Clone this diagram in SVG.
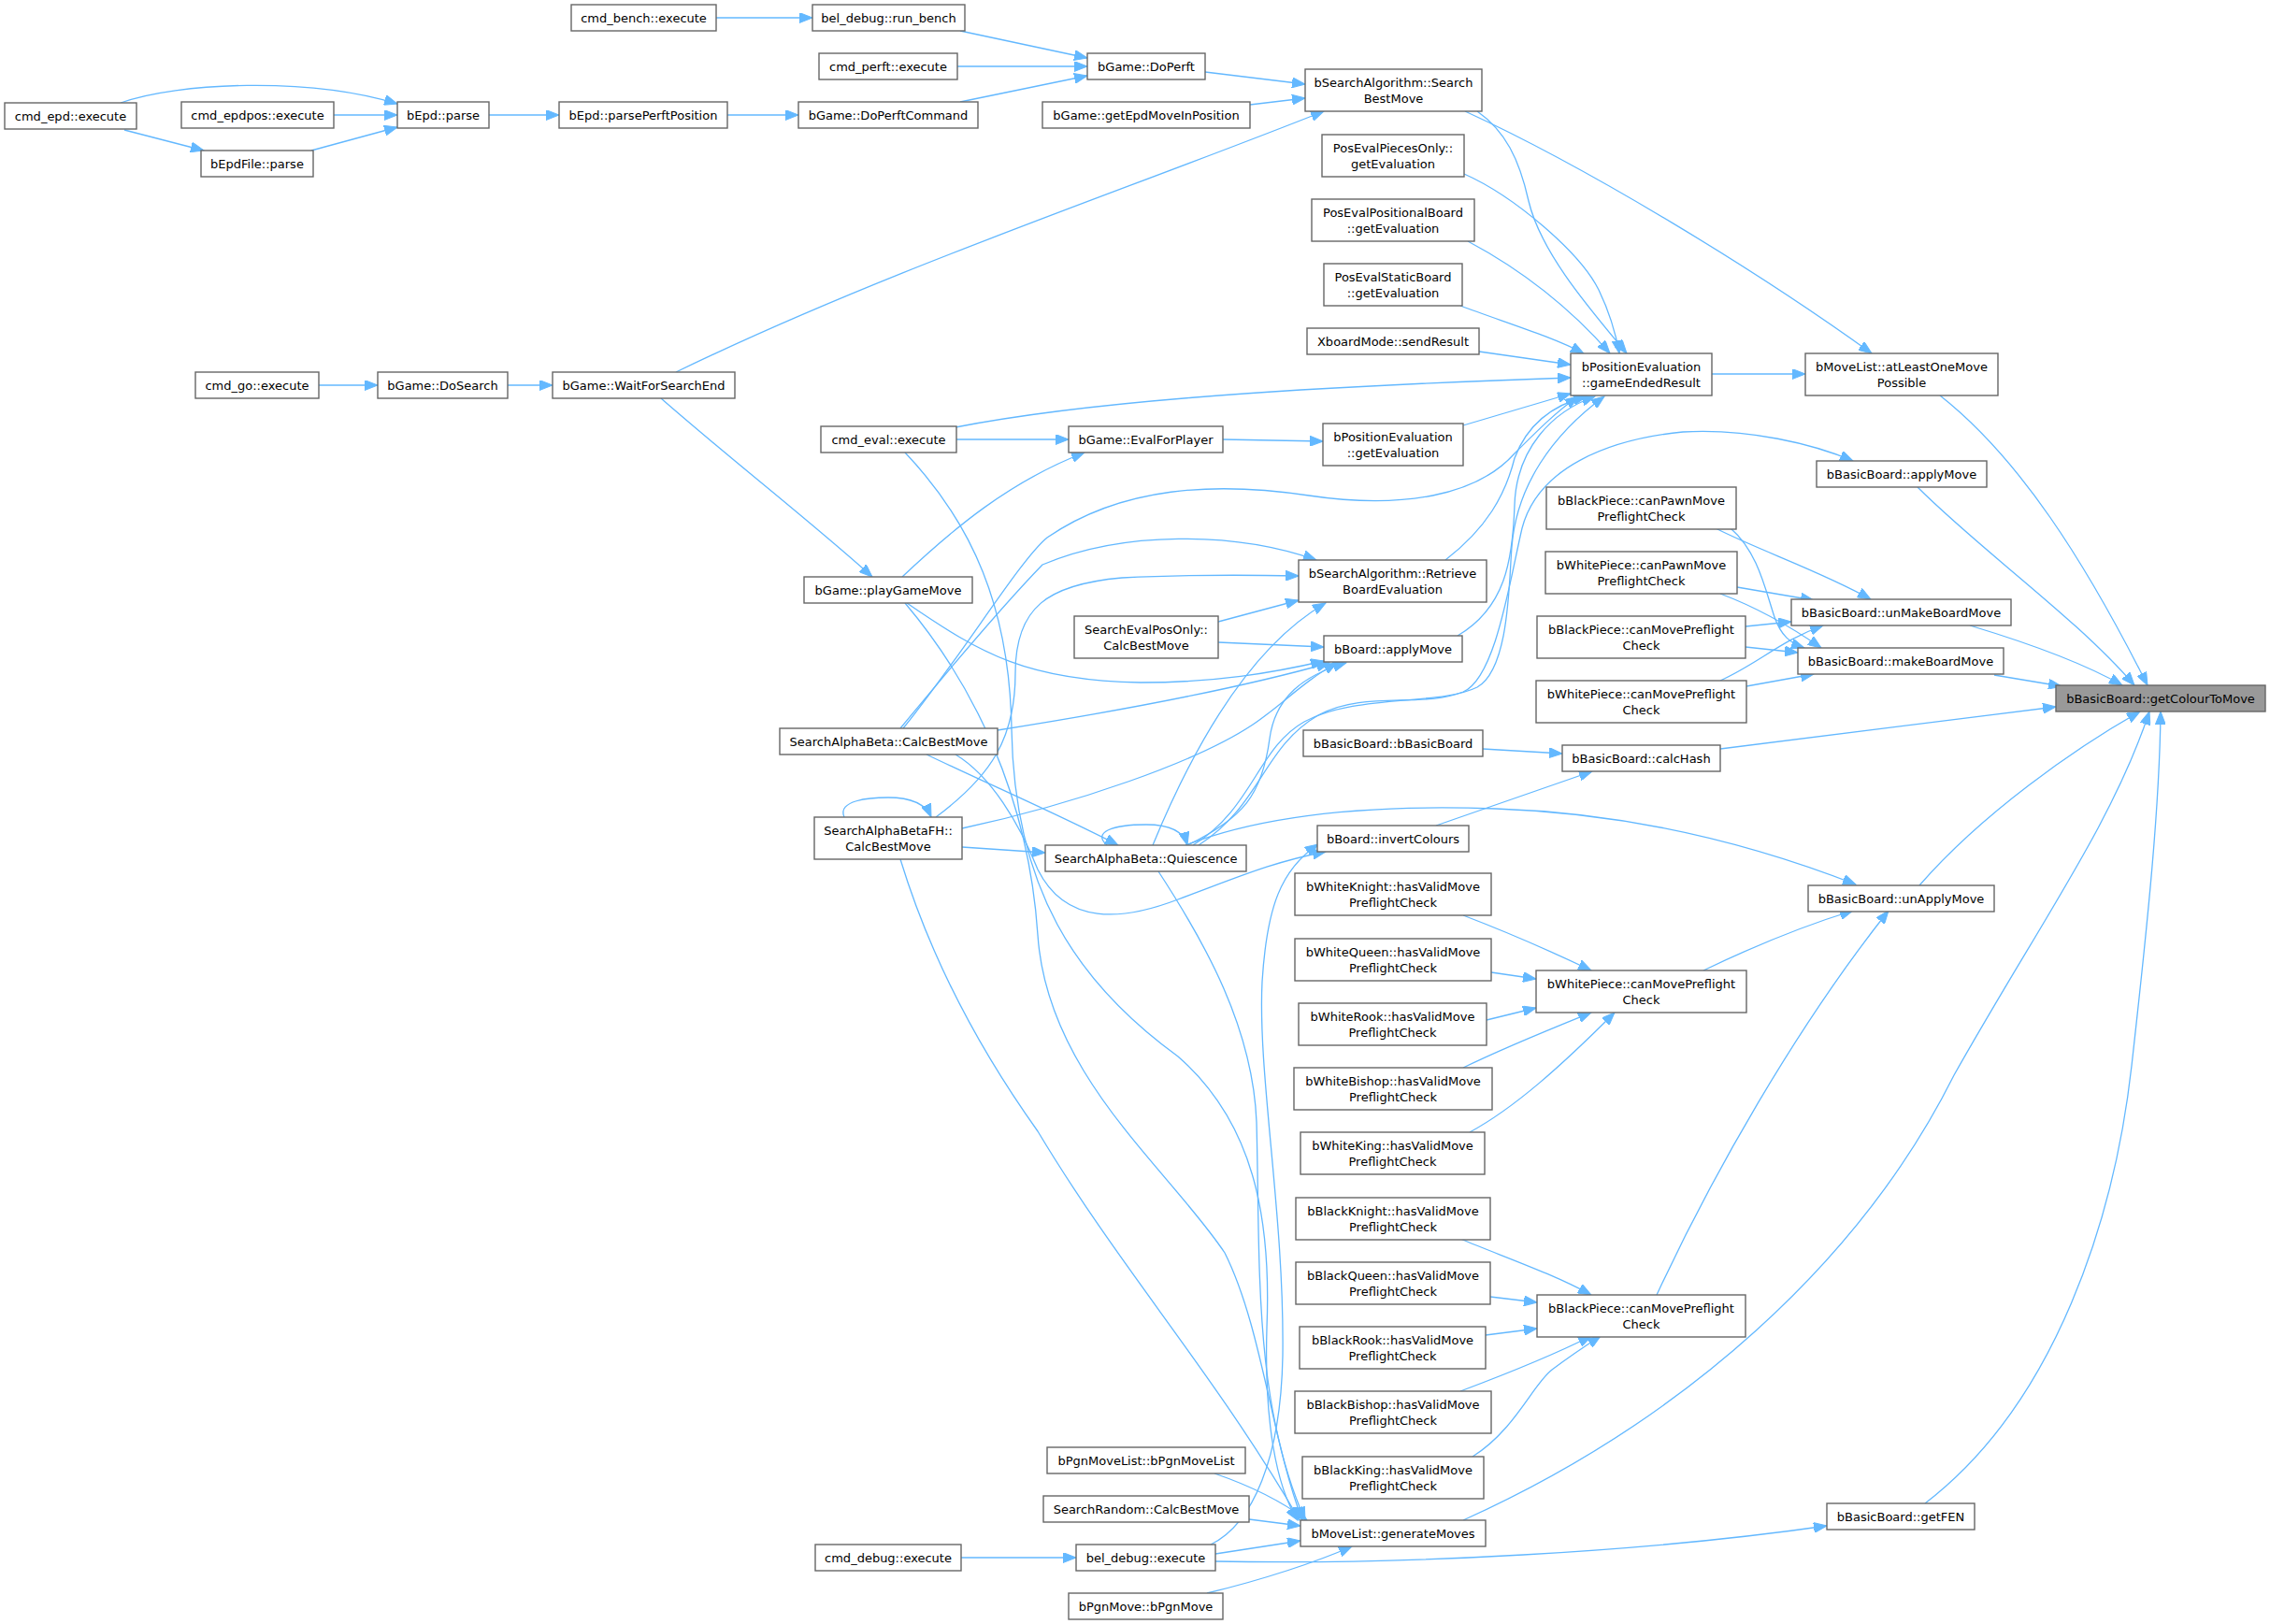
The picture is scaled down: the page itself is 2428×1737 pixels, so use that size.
<svg xmlns="http://www.w3.org/2000/svg" width="2428" height="1737" viewBox="0 0 2428 1737">
<defs>
<marker id="a" markerUnits="userSpaceOnUse" markerWidth="15" markerHeight="11" refX="14" refY="5.5" orient="auto"><path d="M0,0 L14,5.5 L0,11 z" fill="#63b8ff" stroke="#63b8ff" stroke-width="1"/></marker>
</defs>
<style>
.n rect{fill:#ffffff;stroke:#666666;stroke-width:1.4}
.f rect{fill:#999999;stroke:#666666;stroke-width:1.4}
text{font-family:"DejaVu Sans","Liberation Sans",sans-serif;font-size:13px;text-anchor:middle;fill:#000000}
#edges path{fill:none;stroke:#63b8ff;stroke-width:1.3;marker-end:url(#a)}
</style>
<rect x="0" y="0" width="2428" height="1737" fill="#ffffff"/>
<g id="edges">
<path d="M766,19 L869,19"/>
<path d="M1027,33 L1163,62"/>
<path d="M1024,71 L1163,71"/>
<path d="M1027,109 L1163,81"/>
<path d="M1289,77 L1396,90"/>
<path d="M1337,112 L1396,105"/>
<path d="M129,110 C190,88 330,82 425,111"/>
<path d="M357,123 L425,123"/>
<path d="M133,139 L218,161"/>
<path d="M333,161 L425,136"/>
<path d="M523,123 L598,123"/>
<path d="M778,123 L854,123"/>
<path d="M341,412 L404,412"/>
<path d="M543,412 L591,412"/>
<path d="M723,398 C950,288 1200,205 1416,119"/>
<path d="M707,426 C780,490 870,560 933,617"/>
<path d="M965,617 C1020,565 1080,515 1160,484"/>
<path d="M1023,470 L1143,470"/>
<path d="M1308,470 L1415,472"/>
<path d="M1565,455 L1680,421"/>
<path d="M1022,457 C1150,432 1350,415 1680,404"/>
<path d="M1582,376 L1680,390"/>
<path d="M1562,327 C1610,345 1660,360 1694,378"/>
<path d="M1570,258 C1630,290 1680,330 1722,378"/>
<path d="M1566,186 C1620,210 1690,270 1710,310 C1722,335 1728,355 1732,378"/>
<path d="M1580,119 C1610,140 1625,170 1635,215 C1648,270 1700,330 1740,378"/>
<path d="M1567,119 C1700,180 1880,290 2002,378"/>
<path d="M1831,400 L1931,400"/>
<path d="M2075,423 C2160,490 2230,600 2297,733"/>
<path d="M2051,521 C2120,590 2220,660 2283,733"/>
<path d="M2107,669 C2170,688 2230,710 2270,733"/>
<path d="M2133,722 L2205,734"/>
<path d="M1840,801 L2199,756"/>
<path d="M2053,947 C2120,870 2220,800 2289,761"/>
<path d="M1565,1626 C1800,1520 1990,1350 2090,1150 C2180,990 2260,880 2299,761"/>
<path d="M2059,1608 C2200,1500 2262,1300 2280,1140 C2298,980 2310,860 2311,761"/>
<path d="M1300,1670 C1500,1674 1760,1660 1954,1632"/>
<path d="M1268,904 C1350,872 1460,860 1600,865 C1750,870 1880,905 1985,946"/>
<path d="M1282,904 C1350,860 1350,800 1410,765 C1460,738 1520,758 1565,740 C1600,725 1615,620 1628,565 C1645,500 1720,470 1800,462 C1870,458 1940,475 1982,493"/>
<path d="M1276,904 C1340,865 1345,800 1395,772 C1450,742 1540,755 1580,735 C1615,715 1614,620 1617,585 C1622,520 1660,465 1716,424"/>
<path d="M1233,904 C1280,790 1340,690 1418,645"/>
<path d="M1270,904 C1330,875 1350,850 1358,790 C1364,745 1395,722 1440,709"/>
<path d="M1239,932 C1290,1010 1340,1100 1344,1200 C1348,1350 1340,1500 1396,1626"/>
<path d="M1184,904 C1168,890 1190,882 1226,882 C1252,882 1266,889 1270,904"/>
<path d="M991,807 C1060,840 1130,870 1196,904"/>
<path d="M1022,807 C1060,830 1090,880 1110,930 C1140,990 1200,985 1260,962 C1320,940 1360,922 1418,911"/>
<path d="M1067,781 C1200,760 1330,735 1422,709"/>
<path d="M963,779 C1020,710 1080,640 1115,604 C1200,568 1320,568 1408,599"/>
<path d="M966,779 C1030,700 1090,600 1120,575 C1200,520 1300,515 1400,530 C1500,545 1580,530 1620,485 C1645,460 1665,440 1688,424"/>
<path d="M903,874 C895,856 930,853 950,853 C975,853 990,860 996,874"/>
<path d="M1001,874 C1060,830 1086,790 1086,720 C1086,650 1120,625 1200,618 C1280,614 1340,615 1389,616"/>
<path d="M1029,886 C1150,860 1280,815 1340,775 C1370,755 1395,728 1430,709"/>
<path d="M1029,906 L1118,912"/>
<path d="M963,919 C1000,1040 1060,1140 1110,1210 C1200,1360 1300,1470 1390,1626"/>
<path d="M1303,665 L1389,642"/>
<path d="M1303,687 L1416,692"/>
<path d="M970,645 C1050,700 1100,728 1220,730 C1300,730 1360,720 1416,707"/>
<path d="M968,645 C1040,730 1100,850 1110,1000 C1120,1150 1250,1250 1310,1340 C1350,1420 1360,1540 1393,1626"/>
<path d="M968,484 C1040,560 1080,650 1082,780 C1085,950 1150,1050 1260,1130 C1340,1200 1360,1300 1355,1420 C1352,1520 1365,1590 1388,1626"/>
<path d="M1546,599 C1590,565 1610,530 1620,490 C1635,450 1665,432 1697,424"/>
<path d="M1559,680 C1610,650 1618,600 1620,540 C1622,480 1660,440 1706,424"/>
<path d="M1295,1652 C1340,1630 1370,1560 1372,1450 C1374,1300 1345,1150 1350,1050 C1355,970 1370,930 1410,903"/>
<path d="M1300,1662 L1391,1648"/>
<path d="M1336,1625 L1391,1632"/>
<path d="M1299,1576 C1340,1590 1370,1605 1398,1626"/>
<path d="M1291,1704 C1350,1690 1410,1670 1446,1654"/>
<path d="M1028,1666 L1151,1666"/>
<path d="M1536,883 L1703,825"/>
<path d="M1586,801 L1671,806"/>
<path d="M1835,565 C1880,588 1950,612 2001,641"/>
<path d="M1851,565 C1880,590 1888,630 1898,660 C1905,680 1915,688 1930,693"/>
<path d="M1858,628 L1940,642"/>
<path d="M1840,635 C1880,650 1915,670 1948,693"/>
<path d="M1867,670 L1916,665"/>
<path d="M1867,692 L1923,698"/>
<path d="M1840,728 C1880,710 1905,685 1950,669"/>
<path d="M1868,734 L1940,721"/>
<path d="M1565,979 C1620,1000 1660,1018 1702,1038"/>
<path d="M1595,1040 L1643,1047"/>
<path d="M1590,1091 L1643,1078"/>
<path d="M1565,1142 C1610,1120 1660,1100 1702,1083"/>
<path d="M1572,1211 C1620,1185 1670,1140 1727,1083"/>
<path d="M1562,1325 C1610,1345 1660,1362 1702,1385"/>
<path d="M1594,1387 L1644,1393"/>
<path d="M1589,1428 L1644,1421"/>
<path d="M1562,1488 C1610,1470 1660,1450 1702,1429"/>
<path d="M1575,1558 C1620,1530 1640,1480 1660,1465 C1680,1450 1695,1440 1712,1429"/>
<path d="M1822,1038 C1880,1010 1930,990 1982,974"/>
<path d="M1772,1385 C1830,1260 1920,1100 2020,974"/>
</g>
<g id="n1" class="n"><rect x="5" y="110" width="141" height="28"/><text x="75.5" y="128.5">cmd_epd::execute</text></g>
<g id="n2" class="n"><rect x="194" y="109" width="163" height="28"/><text x="275.5" y="127.5">cmd_epdpos::execute</text></g>
<g id="n3" class="n"><rect x="215" y="161" width="120" height="28"/><text x="275" y="179.5">bEpdFile::parse</text></g>
<g id="n4" class="n"><rect x="209" y="398" width="132" height="28"/><text x="275" y="416.5">cmd_go::execute</text></g>
<g id="n5" class="n"><rect x="425" y="109" width="98" height="28"/><text x="474" y="127.5">bEpd::parse</text></g>
<g id="n6" class="n"><rect x="404" y="398" width="139" height="28"/><text x="473.5" y="416.5">bGame::DoSearch</text></g>
<g id="n7" class="n"><rect x="611" y="5" width="155" height="28"/><text x="688.5" y="23.5">cmd_bench::execute</text></g>
<g id="n8" class="n"><rect x="598" y="109" width="180" height="28"/><text x="688" y="127.5">bEpd::parsePerftPosition</text></g>
<g id="n9" class="n"><rect x="591" y="398" width="195" height="28"/><text x="688.5" y="416.5">bGame::WaitForSearchEnd</text></g>
<g id="n10" class="n"><rect x="869" y="5" width="163" height="28"/><text x="950.5" y="23.5">bel_debug::run_bench</text></g>
<g id="n11" class="n"><rect x="876" y="57" width="148" height="28"/><text x="950" y="75.5">cmd_perft::execute</text></g>
<g id="n12" class="n"><rect x="854" y="109" width="192" height="28"/><text x="950" y="127.5">bGame::DoPerftCommand</text></g>
<g id="n13" class="n"><rect x="878" y="456" width="145" height="28"/><text x="950.5" y="474.5">cmd_eval::execute</text></g>
<g id="n14" class="n"><rect x="860" y="617" width="180" height="28"/><text x="950" y="635.5">bGame::playGameMove</text></g>
<g id="n15" class="n"><rect x="834" y="779" width="233" height="28"/><text x="950.5" y="797.5">SearchAlphaBeta::CalcBestMove</text></g>
<g id="n16" class="n"><rect x="871" y="874" width="158" height="45"/><text x="950" y="892.5">SearchAlphaBetaFH::</text><text x="950" y="909.5">CalcBestMove</text></g>
<g id="n17" class="n"><rect x="872" y="1652" width="156" height="28"/><text x="950" y="1670.5">cmd_debug::execute</text></g>
<g id="n18" class="n"><rect x="1163" y="57" width="126" height="28"/><text x="1226" y="75.5">bGame::DoPerft</text></g>
<g id="n19" class="n"><rect x="1115" y="109" width="222" height="28"/><text x="1226" y="127.5">bGame::getEpdMoveInPosition</text></g>
<g id="n20" class="n"><rect x="1143" y="456" width="165" height="28"/><text x="1225.5" y="474.5">bGame::EvalForPlayer</text></g>
<g id="n21" class="n"><rect x="1149" y="659" width="154" height="45"/><text x="1226" y="677.5">SearchEvalPosOnly::</text><text x="1226" y="694.5">CalcBestMove</text></g>
<g id="n22" class="n"><rect x="1118" y="904" width="215" height="28"/><text x="1225.5" y="922.5">SearchAlphaBeta::Quiescence</text></g>
<g id="n23" class="n"><rect x="1120" y="1548" width="212" height="28"/><text x="1226" y="1566.5">bPgnMoveList::bPgnMoveList</text></g>
<g id="n24" class="n"><rect x="1116" y="1600" width="220" height="28"/><text x="1226" y="1618.5">SearchRandom::CalcBestMove</text></g>
<g id="n25" class="n"><rect x="1151" y="1652" width="149" height="28"/><text x="1225.5" y="1670.5">bel_debug::execute</text></g>
<g id="n26" class="n"><rect x="1143" y="1704" width="165" height="28"/><text x="1225.5" y="1722.5">bPgnMove::bPgnMove</text></g>
<g id="n27" class="n"><rect x="1396" y="74" width="189" height="45"/><text x="1490.5" y="92.5">bSearchAlgorithm::Search</text><text x="1490.5" y="109.5">BestMove</text></g>
<g id="n28" class="n"><rect x="1414" y="144" width="152" height="45"/><text x="1490" y="162.5">PosEvalPiecesOnly::</text><text x="1490" y="179.5">getEvaluation</text></g>
<g id="n29" class="n"><rect x="1403" y="213" width="174" height="45"/><text x="1490" y="231.5">PosEvalPositionalBoard</text><text x="1490" y="248.5">::getEvaluation</text></g>
<g id="n30" class="n"><rect x="1416" y="282" width="148" height="45"/><text x="1490" y="300.5">PosEvalStaticBoard</text><text x="1490" y="317.5">::getEvaluation</text></g>
<g id="n31" class="n"><rect x="1398" y="351" width="184" height="28"/><text x="1490" y="369.5">XboardMode::sendResult</text></g>
<g id="n32" class="n"><rect x="1415" y="453" width="150" height="45"/><text x="1490" y="471.5">bPositionEvaluation</text><text x="1490" y="488.5">::getEvaluation</text></g>
<g id="n33" class="n"><rect x="1389" y="599" width="201" height="45"/><text x="1489.5" y="617.5">bSearchAlgorithm::Retrieve</text><text x="1489.5" y="634.5">BoardEvaluation</text></g>
<g id="n34" class="n"><rect x="1416" y="680" width="148" height="28"/><text x="1490" y="698.5">bBoard::applyMove</text></g>
<g id="n35" class="n"><rect x="1394" y="781" width="192" height="28"/><text x="1490" y="799.5">bBasicBoard::bBasicBoard</text></g>
<g id="n36" class="n"><rect x="1409" y="883" width="162" height="28"/><text x="1490" y="901.5">bBoard::invertColours</text></g>
<g id="n37" class="n"><rect x="1385" y="934" width="210" height="45"/><text x="1490" y="952.5">bWhiteKnight::hasValidMove</text><text x="1490" y="969.5">PreflightCheck</text></g>
<g id="n38" class="n"><rect x="1385" y="1004" width="210" height="45"/><text x="1490" y="1022.5">bWhiteQueen::hasValidMove</text><text x="1490" y="1039.5">PreflightCheck</text></g>
<g id="n39" class="n"><rect x="1389" y="1073" width="201" height="45"/><text x="1489.5" y="1091.5">bWhiteRook::hasValidMove</text><text x="1489.5" y="1108.5">PreflightCheck</text></g>
<g id="n40" class="n"><rect x="1384" y="1142" width="212" height="45"/><text x="1490" y="1160.5">bWhiteBishop::hasValidMove</text><text x="1490" y="1177.5">PreflightCheck</text></g>
<g id="n41" class="n"><rect x="1391" y="1211" width="197" height="45"/><text x="1489.5" y="1229.5">bWhiteKing::hasValidMove</text><text x="1489.5" y="1246.5">PreflightCheck</text></g>
<g id="n42" class="n"><rect x="1386" y="1281" width="208" height="45"/><text x="1490" y="1299.5">bBlackKnight::hasValidMove</text><text x="1490" y="1316.5">PreflightCheck</text></g>
<g id="n43" class="n"><rect x="1386" y="1350" width="208" height="45"/><text x="1490" y="1368.5">bBlackQueen::hasValidMove</text><text x="1490" y="1385.5">PreflightCheck</text></g>
<g id="n44" class="n"><rect x="1390" y="1419" width="199" height="45"/><text x="1489.5" y="1437.5">bBlackRook::hasValidMove</text><text x="1489.5" y="1454.5">PreflightCheck</text></g>
<g id="n45" class="n"><rect x="1385" y="1488" width="210" height="45"/><text x="1490" y="1506.5">bBlackBishop::hasValidMove</text><text x="1490" y="1523.5">PreflightCheck</text></g>
<g id="n46" class="n"><rect x="1393" y="1558" width="194" height="45"/><text x="1490" y="1576.5">bBlackKing::hasValidMove</text><text x="1490" y="1593.5">PreflightCheck</text></g>
<g id="n47" class="n"><rect x="1391" y="1626" width="198" height="28"/><text x="1490" y="1644.5">bMoveList::generateMoves</text></g>
<g id="n48" class="n"><rect x="1680" y="378" width="151" height="45"/><text x="1755.5" y="396.5">bPositionEvaluation</text><text x="1755.5" y="413.5">::gameEndedResult</text></g>
<g id="n49" class="n"><rect x="1654" y="521" width="203" height="45"/><text x="1755.5" y="539.5">bBlackPiece::canPawnMove</text><text x="1755.5" y="556.5">PreflightCheck</text></g>
<g id="n50" class="n"><rect x="1653" y="590" width="205" height="45"/><text x="1755.5" y="608.5">bWhitePiece::canPawnMove</text><text x="1755.5" y="625.5">PreflightCheck</text></g>
<g id="n51" class="n"><rect x="1644" y="659" width="223" height="45"/><text x="1755.5" y="677.5">bBlackPiece::canMovePreflight</text><text x="1755.5" y="694.5">Check</text></g>
<g id="n52" class="n"><rect x="1643" y="728" width="225" height="45"/><text x="1755.5" y="746.5">bWhitePiece::canMovePreflight</text><text x="1755.5" y="763.5">Check</text></g>
<g id="n53" class="n"><rect x="1671" y="797" width="169" height="28"/><text x="1755.5" y="815.5">bBasicBoard::calcHash</text></g>
<g id="n54" class="n"><rect x="1643" y="1038" width="225" height="45"/><text x="1755.5" y="1056.5">bWhitePiece::canMovePreflight</text><text x="1755.5" y="1073.5">Check</text></g>
<g id="n55" class="n"><rect x="1644" y="1385" width="223" height="45"/><text x="1755.5" y="1403.5">bBlackPiece::canMovePreflight</text><text x="1755.5" y="1420.5">Check</text></g>
<g id="n56" class="n"><rect x="1931" y="378" width="206" height="45"/><text x="2034" y="396.5">bMoveList::atLeastOneMove</text><text x="2034" y="413.5">Possible</text></g>
<g id="n57" class="n"><rect x="1943" y="493" width="182" height="28"/><text x="2034" y="511.5">bBasicBoard::applyMove</text></g>
<g id="n58" class="n"><rect x="1916" y="641" width="235" height="28"/><text x="2033.5" y="659.5">bBasicBoard::unMakeBoardMove</text></g>
<g id="n59" class="n"><rect x="1923" y="693" width="220" height="28"/><text x="2033" y="711.5">bBasicBoard::makeBoardMove</text></g>
<g id="n60" class="n"><rect x="1934" y="947" width="199" height="28"/><text x="2033.5" y="965.5">bBasicBoard::unApplyMove</text></g>
<g id="n61" class="n"><rect x="1954" y="1608" width="158" height="28"/><text x="2033" y="1626.5">bBasicBoard::getFEN</text></g>
<g id="n62" class="f"><rect x="2199" y="733" width="224" height="28"/><text x="2311" y="751.5">bBasicBoard::getColourToMove</text></g>
</svg>
